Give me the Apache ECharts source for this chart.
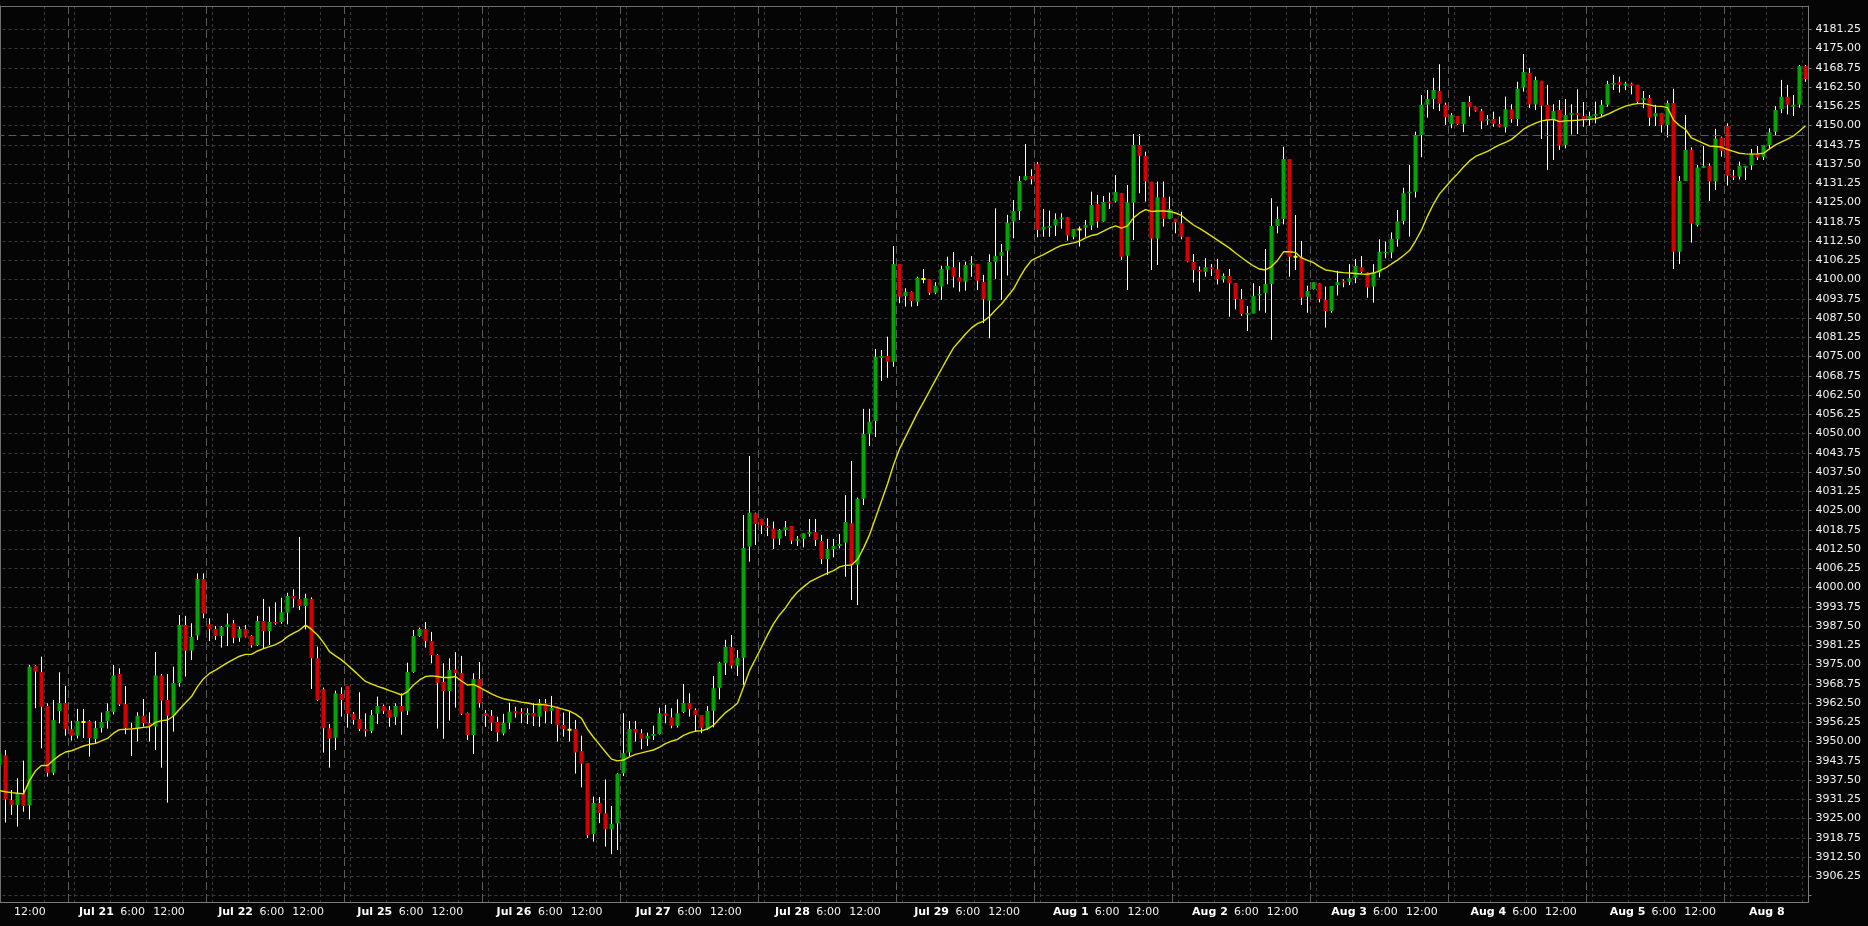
<!DOCTYPE html>
<html><head><meta charset="utf-8">
<script src="https://cdn.jsdelivr.net/npm/echarts@6/dist/echarts.min.js"></script>
<style>html,body{margin:0;padding:0;background:#050505;}#c{width:1868px;height:926px;}</style>
</head><body><div id="c"></div>
<script>
// ---- data (hourly bars, 23 per session) ----
const prevDayName = 'Jul 20';
const dayNames = ['Jul 21','Jul 22','Jul 25','Jul 26','Jul 27','Jul 28','Jul 29','Aug 1','Aug 2','Aug 3','Aug 4','Aug 5','Aug 8'];
const firstSessionBar = 12;   // bar index where the 'Jul 21' session starts
const barsPerSession = 23;

const opens = [
3942.4,3945.5,3931.0,3929.4,3933.2,3929.2,3974.5,3972.6,3961.5,3939.9,
3959.9,3962.5,3954.0,3951.9,3956.3,3956.7,3950.8,3954.4,3956.7,3959.6,
3971.9,3962.2,3954.4,3954.4,3958.4,3956.0,3954.9,3971.4,3963.5,3958.4,
3969.0,3987.8,3979.5,3984.4,4002.8,3988.05,3986.5,3984.3,3987.2,3988.4,
3983.7,3986.5,3984.3,3981.25,3989.1,3985.9,3988.8,3988.8,3991.8,3997.25,
3996.3,3994.0,3996.3,3977.0,3966.95,3954.3,3951.25,3965.4,3968.0,3959.05,
3957.3,3954.1,3953.4,3959.05,3961.5,3960.2,3957.95,3961.5,3960.0,3972.6,
3984.3,3986.5,3982.6,3978.1,3969.3,3966.4,3973.4,3972.25,3959.3,3952.1,
3970.3,3959.3,3958.4,3956.3,3952.6,3956.1,3959.9,3959.7,3958.6,3959.3,
3958.1,3962.4,3960.0,3960.9,3955.4,3953.85,3954.1,3946.9,3943.0,3920.0,
3930.05,3926.7,3921.5,3923.4,3939.7,3946.4,3954.1,3952.7,3950.9,3951.8,
3952.45,3959.2,3957.9,3955.15,3959.6,3962.5,3960.2,3958.6,3954.0,3960.0,
3967.5,3975.4,3980.7,3974.6,3977.2,4013.3,4024.1,4022.25,4020.0,4019.2,
4015.8,4018.7,4020.0,4015.2,4015.8,4017.4,4018.0,4015.1,4009.3,4012.5,
4013.5,4014.6,4020.85,4007.4,4028.85,4049.95,4054.1,4074.5,4075.2,4073.3,
4105.0,4094.65,4096.05,4092.8,4100.2,4100.1,4095.7,4097.7,4103.2,4104.1,
4100.7,4099.3,4104.7,4105.05,4099.2,4093.1,4105.8,4107.75,4109.3,4118.8,
4122.25,4132.3,4133.6,4137.5,4116.2,4116.8,4117.5,4119.55,4120.2,4113.9,
4116.2,4116.8,4117.5,4124.5,4118.8,4125.3,4125.3,4128.0,4107.75,4125.0,
4143.7,4140.2,4131.7,4113.3,4126.7,4119.7,4119.7,4118.25,4113.8,4105.7,
4103.1,4102.55,4103.96,4103.3,4100.2,4101.15,4098.8,4093.7,4088.6,4089.0,
4094.8,4095.6,4098.55,4117.4,4119.65,4139.1,4107.4,4107.4,4094.4,4096.9,
4098.8,4093.4,4089.8,4098.2,4099.6,4099.3,4100.6,4103.96,4102.3,4097.7,
4102.3,4108.5,4108.8,4113.05,4119.0,4128.0,4128.5,4146.9,4156.7,4158.6,
4161.2,4156.7,4150.4,4153.1,4150.4,4157.6,4156.1,4154.8,4151.6,4152.1,
4150.5,4149.4,4155.3,4152.1,4162.3,4167.1,4156.8,4164.5,4156.7,4151.8,
4155.0,4143.7,4153.4,4154.1,4153.1,4152.1,4153.1,4153.7,4156.7,4163.2,
4164.2,4162.9,4163.6,4163.2,4158.1,4158.9,4152.9,4154.1,4150.2,4157.3,
4109.05,4132.0,4142.1,4117.7,4136.3,4136.9,4131.8,4146.1,4149.85,4133.7,
4133.4,4136.3,4137.0,4141.0,4139.7,4143.7,4148.0,4155.4,4159.3,4156.1,
4156.7,4169.3];

const closes = [
3946.0,3931.2,3929.4,3933.2,3929.1,3974.3,3972.7,3961.3,3939.9,3957.0,
3962.5,3954.1,3951.9,3956.7,3956.3,3951.15,3954.4,3956.3,3959.9,3971.4,
3962.0,3954.4,3953.9,3958.4,3956.0,3955.15,3971.4,3963.3,3958.4,3969.0,
3987.8,3979.5,3983.9,4002.8,3991.6,3986.5,3984.3,3987.2,3988.05,3983.7,
3986.5,3984.0,3981.25,3989.1,3985.9,3988.8,3988.3,3992.0,3997.25,3996.4,
3994.0,3996.6,3977.0,3963.5,3954.3,3951.0,3965.65,3963.5,3959.05,3957.0,
3954.1,3953.4,3958.6,3961.5,3959.9,3957.75,3961.5,3959.7,3972.6,3984.3,
3986.5,3982.6,3978.1,3969.1,3966.4,3973.2,3972.25,3959.05,3952.1,3970.3,
3962.5,3958.4,3956.1,3952.9,3956.1,3959.7,3959.3,3959.05,3959.3,3958.1,
3962.6,3959.9,3960.9,3955.4,3954.1,3953.85,3946.4,3942.8,3919.6,3930.05,
3926.8,3921.5,3923.2,3939.5,3946.2,3954.1,3952.9,3950.9,3951.8,3952.45,
3959.2,3958.4,3955.15,3959.2,3962.5,3960.6,3958.6,3954.5,3959.9,3967.3,
3975.6,3980.8,3974.6,3977.2,4012.8,4024.3,4020.6,4020.1,4019.4,4015.8,
4018.7,4019.55,4015.2,4015.8,4017.6,4018.0,4015.4,4009.3,4012.5,4013.5,
4014.1,4021.3,4007.2,4028.85,4049.85,4053.85,4074.95,4075.2,4073.3,4105.0,
4094.4,4096.05,4093.0,4100.6,4100.2,4095.7,4098.0,4103.4,4104.5,4100.9,
4099.3,4104.7,4105.3,4099.6,4093.6,4105.7,4107.6,4108.9,4118.4,4122.25,
4132.0,4133.6,4132.6,4116.1,4117.1,4117.4,4119.55,4120.1,4114.25,4116.4,
4116.2,4117.7,4124.2,4118.8,4125.2,4124.75,4128.4,4107.4,4125.0,4143.7,
4140.2,4131.8,4113.3,4126.7,4119.7,4122.9,4118.6,4113.9,4105.8,4103.1,
4102.6,4103.96,4103.4,4100.2,4101.15,4098.8,4093.7,4088.8,4089.1,4094.65,
4095.3,4098.55,4117.4,4119.65,4139.1,4107.4,4107.4,4094.1,4096.3,4099.1,
4093.7,4089.8,4097.9,4099.1,4099.0,4100.4,4104.4,4102.55,4097.4,4102.3,
4109.05,4109.05,4113.2,4118.8,4128.0,4128.5,4146.9,4156.7,4158.6,4161.5,
4157.1,4152.7,4153.4,4150.4,4157.6,4156.1,4154.8,4151.4,4152.1,4150.6,
4149.6,4155.3,4152.1,4161.9,4167.4,4156.8,4164.8,4156.45,4151.8,4154.7,
4143.5,4153.4,4154.1,4153.4,4151.8,4153.1,4153.7,4156.7,4163.5,4163.8,
4163.2,4163.6,4162.9,4157.75,4158.9,4152.55,4154.1,4150.2,4157.3,4109.05,
4132.0,4142.1,4118.1,4136.4,4136.9,4131.8,4145.8,4141.8,4133.7,4133.1,
4136.9,4136.9,4141.0,4139.6,4143.7,4147.8,4155.0,4159.3,4156.7,4156.7,
4169.3,4165.1];

const lows = [
3935.0,3923.7,3926.2,3922.4,3927.2,3924.7,3960.8,3947.8,3938.6,3939.1,
3955.9,3951.9,3950.3,3951.0,3951.15,3945.1,3949.4,3952.9,3954.2,3958.8,
3961.5,3952.4,3945.3,3950.0,3954.8,3950.0,3947.25,3941.5,3930.15,3953.2,
3967.8,3971.1,3976.5,3983.0,3990.0,3982.6,3983.0,3980.5,3981.0,3981.9,
3982.4,3983.8,3980.5,3981.0,3980.3,3981.35,3987.9,3988.2,3988.05,3993.5,
3992.7,3986.4,3967.05,3963.2,3946.4,3941.5,3947.25,3958.1,3954.5,3955.5,
3953.4,3951.6,3952.7,3955.7,3959.0,3954.8,3955.4,3952.2,3958.6,3972.3,
3984.0,3980.5,3975.4,3954.2,3950.9,3956.8,3961.0,3958.6,3950.5,3945.95,
3961.0,3954.8,3953.4,3950.0,3952.0,3954.0,3957.75,3955.9,3955.7,3955.0,
3954.8,3955.9,3955.7,3950.0,3951.6,3950.0,3939.6,3935.1,3918.7,3917.5,
3923.5,3915.9,3913.4,3914.8,3938.8,3945.3,3950.0,3947.5,3948.55,3950.5,
3952.3,3955.9,3954.3,3954.5,3959.2,3958.1,3953.2,3952.7,3953.75,3954.6,
3963.7,3971.6,3973.7,3971.3,3968.4,4008.4,4013.8,4017.4,4016.7,4012.5,
4013.8,4016.7,4014.1,4013.5,4013.05,4016.5,4013.5,4007.6,4004.1,4009.8,
4012.7,4003.5,3995.95,3994.3,4026.8,4045.95,4048.9,4067.1,4068.1,4071.7,
4092.3,4091.2,4091.2,4091.4,4098.8,4095.0,4095.2,4093.4,4098.45,4097.4,
4096.05,4096.4,4100.9,4096.6,4085.8,4080.9,4100.2,4093.4,4101.3,4113.4,
4119.3,4132.2,4130.9,4113.7,4113.9,4113.9,4114.1,4116.5,4112.6,4113.05,
4110.7,4113.9,4116.1,4116.8,4118.7,4122.9,4125.0,4106.35,4096.6,4112.8,
4128.0,4125.3,4103.1,4104.7,4117.2,4119.6,4115.0,4113.05,4105.6,4099.0,
4096.05,4100.9,4101.15,4098.4,4099.0,4087.9,4090.3,4088.2,4083.3,4089.0,
4089.9,4089.2,4080.4,4115.0,4117.9,4100.9,4103.1,4091.7,4089.2,4096.8,
4092.6,4084.4,4089.2,4094.8,4097.5,4098.2,4098.8,4102.0,4094.1,4092.5,
4100.7,4106.9,4106.9,4110.7,4117.9,4113.9,4126.6,4139.7,4152.55,4155.3,
4154.7,4150.2,4149.1,4150.2,4147.8,4152.9,4154.5,4148.8,4150.2,4149.6,
4149.4,4147.7,4150.9,4149.85,4161.0,4155.7,4155.0,4145.6,4135.6,4138.8,
4142.1,4142.6,4147.1,4147.25,4149.6,4149.95,4150.7,4152.9,4156.1,4161.5,
4160.7,4161.5,4160.1,4157.2,4155.6,4149.85,4149.85,4147.7,4146.1,4103.4,
4105.0,4132.0,4112.0,4117.2,4136.3,4125.5,4129.1,4139.9,4130.5,4132.3,
4132.5,4132.3,4135.6,4138.8,4138.8,4142.6,4146.6,4154.0,4153.6,4153.1,
4155.8,4164.2];

const highs = [
3948.0,3947.25,3934.3,3938.05,3943.8,3974.85,3974.75,3977.55,3962.4,3963.5,
3972.5,3968.1,3956.7,3960.6,3960.6,3956.9,3956.7,3959.4,3962.4,3974.85,
3973.8,3968.0,3956.1,3959.5,3963.8,3959.5,3979.1,3971.9,3971.9,3974.3,
3991.1,3990.8,3988.4,4004.6,4004.6,3990.0,3987.5,3987.5,3991.6,3989.5,
3987.3,3987.8,3984.5,3990.8,3996.3,3993.8,3995.2,3996.7,3998.3,3999.4,
4016.4,3998.0,3996.8,3980.8,3967.5,3955.7,3966.5,3967.6,3968.0,3959.6,
3966.0,3959.15,3960.2,3964.6,3962.0,3961.5,3962.4,3965.65,3975.6,3986.2,
3987.0,3988.8,3985.6,3978.3,3975.4,3977.0,3979.0,3977.8,3959.4,3972.15,
3975.8,3960.2,3960.2,3958.1,3959.0,3962.6,3961.3,3960.8,3960.8,3962.4,
3963.8,3963.8,3964.8,3961.3,3959.4,3959.7,3957.0,3951.9,3943.0,3932.1,
3932.0,3937.7,3929.1,3939.7,3959.2,3956.7,3956.7,3954.0,3952.9,3955.15,
3961.0,3961.9,3960.8,3963.7,3968.7,3965.65,3960.8,3958.6,3961.5,3971.3,
3975.9,3983.0,3984.6,3979.7,4023.55,4042.7,4024.3,4022.3,4022.5,4021.4,
4019.0,4021.6,4020.0,4016.7,4017.6,4022.25,4022.25,4017.1,4015.8,4015.8,
4017.4,4030.0,4041.1,4029.2,4058.0,4058.0,4077.45,4077.1,4081.45,4110.9,
4105.0,4097.15,4096.1,4100.9,4103.4,4100.1,4099.1,4104.5,4107.4,4108.9,
4105.6,4105.8,4107.6,4105.05,4101.5,4108.2,4123.1,4111.5,4121.0,4125.8,
4133.6,4144.0,4135.8,4138.1,4122.9,4122.4,4121.5,4121.5,4120.2,4116.4,
4117.2,4119.3,4128.5,4127.45,4127.1,4128.2,4133.9,4128.0,4130.7,4147.25,
4147.25,4141.5,4131.7,4131.8,4131.8,4126.9,4119.7,4122.0,4113.8,4108.3,
4104.2,4106.9,4105.0,4106.7,4102.0,4103.4,4098.8,4096.9,4091.4,4098.8,
4097.9,4109.9,4126.4,4123.7,4143.1,4139.1,4120.95,4112.5,4098.0,4099.1,
4098.8,4097.7,4097.9,4102.8,4100.05,4105.0,4106.7,4107.6,4102.3,4105.0,
4113.05,4112.3,4115.3,4122.6,4129.8,4137.2,4148.0,4159.9,4161.5,4165.5,
4169.9,4157.4,4154.0,4153.1,4157.6,4159.6,4156.1,4155.4,4153.4,4154.5,
4152.9,4159.4,4156.9,4164.2,4173.2,4168.7,4165.9,4164.5,4163.2,4156.9,
4158.3,4158.6,4156.9,4161.75,4157.6,4154.5,4157.75,4158.3,4164.5,4166.4,
4165.9,4164.2,4163.9,4163.2,4161.2,4159.9,4156.7,4154.1,4158.1,4161.9,
4133.6,4153.4,4142.9,4137.2,4143.35,4137.7,4148.9,4146.4,4150.7,4135.6,
4138.3,4136.9,4142.4,4143.35,4143.7,4149.1,4156.3,4164.8,4163.2,4159.9,
4169.65,4169.65];

const maValues = [
3934.05,3933.7,3933.4,3933.2,3933.0,3937.3,3940.5,3942.2,3942.2,3944.0,
3945.5,3946.6,3947.0,3947.8,3948.55,3949.1,3949.4,3950.2,3951.0,3952.7,
3953.85,3954.0,3954.1,3954.3,3954.6,3954.8,3956.2,3956.8,3957.0,3958.3,
3960.45,3962.6,3964.6,3967.8,3970.4,3972.1,3973.2,3974.4,3975.6,3976.7,
3977.7,3978.3,3978.3,3979.4,3980.15,3980.8,3981.45,3982.5,3984.05,3985.2,
3986.2,3987.8,3986.4,3984.6,3982.1,3979.2,3977.8,3976.5,3974.85,3973.1,
3971.3,3969.5,3968.7,3967.9,3967.3,3966.5,3965.9,3965.1,3966.2,3968.35,
3970.0,3971.1,3971.3,3971.1,3970.8,3970.8,3971.1,3969.65,3968.35,3968.55,
3967.6,3966.5,3965.5,3964.6,3963.9,3963.5,3963.2,3962.8,3962.5,3962.1,
3962.0,3961.9,3961.5,3961.0,3960.45,3959.9,3958.9,3957.5,3954.0,3951.4,
3949.0,3946.6,3944.3,3943.7,3944.0,3945.0,3945.85,3946.3,3946.8,3947.25,
3948.2,3949.3,3950.1,3950.7,3952.0,3952.8,3953.4,3953.5,3954.1,3955.3,
3957.4,3959.4,3960.8,3962.4,3967.6,3973.0,3976.8,3980.7,3984.6,3988.2,
3991.1,3993.4,3996.3,3998.55,4000.2,4001.8,4002.8,4003.75,4004.7,4005.5,
4006.7,4007.2,4007.3,4009.1,4012.8,4017.1,4022.6,4028.1,4033.6,4039.8,
4045.0,4048.9,4052.8,4056.7,4060.2,4063.8,4067.4,4070.95,4074.5,4077.8,
4080.05,4082.3,4084.3,4085.7,4086.5,4088.0,4090.1,4092.05,4094.5,4096.9,
4100.5,4103.75,4106.2,4107.15,4108.1,4109.1,4110.2,4111.05,4111.5,4111.9,
4112.5,4113.5,4114.3,4114.7,4115.7,4116.7,4117.4,4116.7,4117.4,4120.0,
4121.6,4122.7,4122.1,4122.25,4122.25,4122.1,4121.6,4120.8,4119.2,4117.7,
4116.6,4115.4,4114.1,4112.8,4111.5,4110.2,4108.6,4107.15,4105.7,4104.4,
4103.4,4103.1,4104.2,4106.2,4109.0,4109.0,4108.8,4107.0,4106.2,4105.5,
4104.2,4103.1,4102.8,4102.45,4102.25,4102.1,4101.95,4101.8,4101.7,4102.1,
4102.8,4103.75,4105.05,4106.3,4107.8,4109.4,4112.5,4116.1,4120.6,4124.5,
4127.8,4130.05,4132.3,4134.3,4136.5,4138.5,4139.95,4140.8,4141.6,4142.7,
4143.7,4144.5,4145.5,4147.1,4148.8,4149.85,4150.8,4151.5,4151.8,4152.0,
4151.25,4151.5,4151.6,4151.7,4151.9,4152.0,4152.2,4152.8,4153.65,4154.55,
4155.5,4156.3,4156.8,4157.1,4157.2,4156.7,4156.3,4156.2,4155.8,4151.8,
4150.0,4148.7,4145.95,4145.1,4144.2,4143.35,4143.2,4143.0,4142.2,4141.6,
4141.0,4140.8,4140.7,4140.8,4141.0,4142.4,4143.7,4144.7,4145.6,4146.6,
4148.2,4149.95];

const referenceLevel = 4146.75;

const yTickValues = [3900.00,3906.25,3912.50,3918.75,3925.00,3931.25,3937.50,3943.75,3950.00,3956.25,
3962.50,3968.75,3975.00,3981.25,3987.50,3993.75,4000.00,4006.25,4012.50,4018.75,4025.00,4031.25,
4037.50,4043.75,4050.00,4056.25,4062.50,4068.75,4075.00,4081.25,4087.50,4093.75,4100.00,4106.25,
4112.50,4118.75,4125.00,4131.25,4137.50,4143.75,4150.00,4156.25,4162.50,4168.75,4175.00,4181.25];
const yLabelValues = yTickValues.slice(1);

// ---- derived structures ----
const N = opens.length;
const inSession = i => ((i - firstSessionBar) % barsPerSession + barsPerSession) % barsPerSession;
const categories = [];
for (let i = 0; i < N; i++) {
  const s = Math.floor((i - firstSessionBar) / barsPerSession);
  const p = inSession(i);
  const hour = (p + 23) % 24;
  const day = p === 0 ? (s <= 0 ? prevDayName : dayNames[s - 1]) : (s < 0 ? prevDayName : dayNames[s]);
  categories.push(day + ' ' + hour + ':00');
}
const ohlc = opens.map((o, i) => [o, closes[i], lows[i], highs[i]]);
const dojis = opens.map((o, i) => (o === closes[i] ? [o, o, o, o] : '-'));

// time-axis labels: date at midnight bar, 6:00 and 12:00 bars
const labelText = {};
labelText[firstSessionBar - barsPerSession + 13] = '12:00';
dayNames.forEach((d, j) => {
  const start = firstSessionBar + barsPerSession * j;
  labelText[start + 1] = '{d|' + d + '}';
  if (j < dayNames.length - 1) {
    labelText[start + 7] = '6:00';
    labelText[start + 13] = '12:00';
  }
});
const labelBars = Object.keys(labelText).map(Number).sort((a, b) => a - b);

const FONT = 'DejaVu Sans';
const chart = echarts.init(document.getElementById('c'), null, {renderer: 'canvas'});
chart.setOption({
  animation: false,
  backgroundColor: '#050505',
  grid: {left: -3.5, right: 59.5, top: 6, bottom: 24, outerBoundsMode: 'none', containLabel: false},
  xAxis: [
    { // main category axis: hourly dotted grid
      type: 'category', data: categories, boundaryGap: true, position: 'bottom',
      axisLine: {show: true, onZero: false, lineStyle: {color: '#7c7c7c', width: 1}},
      axisTick: {show: false}, axisLabel: {show: false},
      splitLine: {show: true, interval: (i) => { const p = inSession(i); return i > 2 && (p === 1 || p === 7 || p === 13 || p === 19); },
        lineStyle: {color: '#3a3a3a', width: 1, type: [3, 3]}}
    },
    { // label axis
      type: 'value', min: -3.507, max: 295.9, position: 'bottom',
      axisLine: {show: false, onZero: false}, axisTick: {show: false}, splitLine: {show: false},
      axisLabel: {show: true, customValues: labelBars, hideOverlap: false, margin: 5,
        color: '#f2f2f2', fontFamily: FONT, fontSize: 11,
        formatter: (v) => labelText[Math.round(v)] || '',
        rich: {d: {fontWeight: 'bold', fontSize: 11, fontFamily: FONT, color: '#ffffff'}}}
    },
    { // session separators
      type: 'category', data: categories, boundaryGap: true, position: 'bottom',
      axisLine: {show: false, onZero: false}, axisTick: {show: false}, axisLabel: {show: false},
      splitLine: {show: true, interval: (i) => inSession(i) === 0,
        lineStyle: {color: '#5c5c5c', width: 1, type: [8, 4]}}
    },
    { // top border
      type: 'category', data: categories, boundaryGap: true, position: 'top',
      axisLine: {show: true, onZero: false, lineStyle: {color: '#6e6e6e', width: 1}},
      axisTick: {show: false}, axisLabel: {show: false}, splitLine: {show: false}
    }
  ],
  yAxis: [
    {
      type: 'value', position: 'right', min: 3897.9, max: 4188.8, scale: true,
      axisLine: {show: true, onZero: false, lineStyle: {color: '#7c7c7c', width: 1}},
      axisTick: {show: true, length: 3, customValues: yTickValues, lineStyle: {color: '#7c7c7c'}},
      axisLabel: {show: true, customValues: yLabelValues, margin: 7, hideOverlap: false,
        color: '#f2f2f2', fontFamily: FONT, fontSize: 11, formatter: (v) => v.toFixed(2)},
      splitLine: {show: true, lineStyle: {color: '#3a3a3a', width: 1, type: [3, 3]}}
    },
    { // left border
      type: 'value', position: 'left', offset: -4, min: 3897.9, max: 4188.8,
      axisLine: {show: true, onZero: false, lineStyle: {color: '#6e6e6e', width: 1}},
      axisTick: {show: false}, axisLabel: {show: false}, splitLine: {show: false}
    }
  ],
  series: [
    { // wicks
      type: 'candlestick', name: 'wick', xAxisIndex: 0, yAxisIndex: 0, data: ohlc, barWidth: 1,
      itemStyle: {color: '#ffffff', color0: '#ffffff', borderColor: '#ffffff', borderColor0: '#ffffff', borderColorDoji: '#ffffff', borderWidth: 1},
      markLine: {silent: true, symbol: ['none', 'none'], label: {show: false},
        lineStyle: {color: '#5c5c5c', width: 1, type: [8, 4]}, data: [{yAxis: referenceLevel}]}
    },
    { // bodies
      type: 'candlestick', name: 'body', xAxisIndex: 0, yAxisIndex: 0, data: ohlc, barWidth: 5,
      itemStyle: {color: '#00a400', color0: '#d40000', borderColor: 'rgba(0,0,0,0)', borderColor0: 'rgba(0,0,0,0)', borderColorDoji: 'rgba(0,0,0,0)', borderWidth: 0}
    },
    { // doji marks
      type: 'candlestick', name: 'doji', xAxisIndex: 0, yAxisIndex: 0, data: dojis, barWidth: 5,
      itemStyle: {color: '#ffff00', color0: '#ffff00', borderColor: '#ffff00', borderColor0: '#ffff00', borderColorDoji: '#ffff00', borderWidth: 2}
    },
    { // moving average
      type: 'line', name: 'MA', xAxisIndex: 0, yAxisIndex: 0, data: maValues, showSymbol: false, symbol: 'none',
      smooth: false, z: 5, lineStyle: {color: '#e2e200', width: 1.4}
    }
  ]
});
</script>
</body></html>
